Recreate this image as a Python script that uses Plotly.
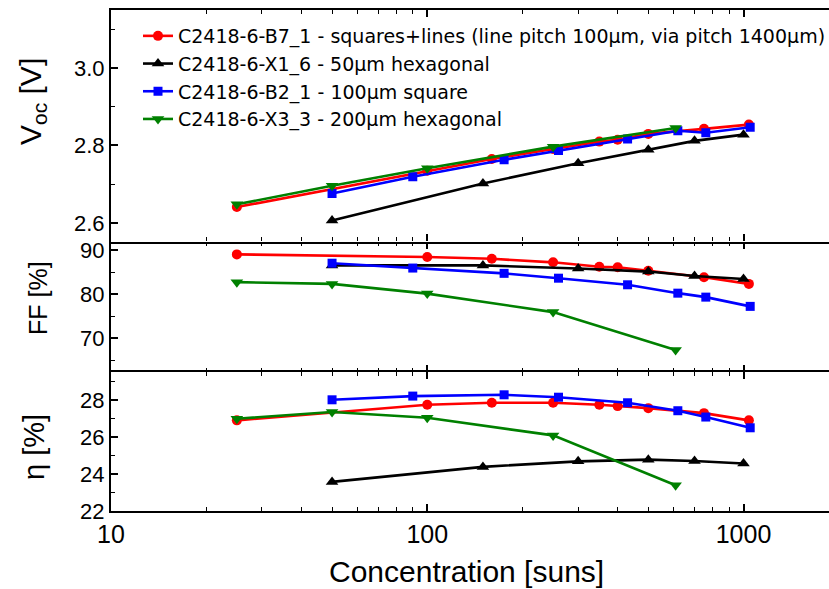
import plotly.graph_objects as go

# ---------------- data ----------------
names = [
    "C2418-6-B7_1 - squares+lines (line pitch 100µm, via pitch 1400µm)",
    "C2418-6-X1_6 - 50µm hexagonal",
    "C2418-6-B2_1 - 100µm square",
    "C2418-6-X3_3 - 200µm hexagonal",
]
colors = ["#ff0000", "#000000", "#0000ff", "#008000"]
symbols = ["circle", "triangle-up", "square", "triangle-down"]

x_red = [25, 100, 160, 250, 350, 400, 500, 750, 1040]
voc_red = [2.641, 2.735, 2.765, 2.791, 2.810, 2.815, 2.830, 2.843, 2.854]
ff_red = [89.0, 88.4, 88.0, 87.2, 86.2, 86.1, 85.3, 83.8, 82.3]
eta_red = [26.89, 27.73, 27.84, 27.84, 27.73, 27.66, 27.55, 27.28, 26.89]

x_black = [50, 150, 300, 500, 700, 1000]
voc_black = [2.606, 2.702, 2.754, 2.789, 2.812, 2.828]
ff_black = [86.5, 86.5, 85.8, 85.1, 84.1, 83.4]
eta_black = [23.57, 24.38, 24.68, 24.77, 24.70, 24.56]

x_blue = [50, 90, 175, 260, 430, 620, 760, 1050]
voc_blue = [2.676, 2.719, 2.763, 2.787, 2.817, 2.838, 2.833, 2.847]
ff_blue = [87.0, 85.9, 84.7, 83.6, 82.1, 80.2, 79.3, 77.2]
eta_blue = [28.0, 28.2, 28.27, 28.14, 27.84, 27.41, 27.07, 26.49]

x_green = [25, 50, 100, 250, 610]
voc_green = [2.648, 2.696, 2.741, 2.797, 2.845]
ff_green = [82.7, 82.3, 80.1, 75.9, 67.3]
eta_green = [26.98, 27.34, 27.03, 26.08, 23.39]

x_tickvals = [10, 100, 1000]
x_ticktext = ["10", "100", "1000"]
x_minor = [20, 30, 40, 50, 60, 70, 80, 90, 200, 300, 400, 500, 600, 700, 800, 900]
voc_ticks = [2.6, 2.8, 3.0]
voc_ticktext = ["2.6", "2.8", "3.0"]
voc_minor = [2.7, 2.9, 3.1]
ff_ticks = [70, 80, 90]
ff_minor = [65, 75, 85]
eta_ticks = [22, 24, 26, 28]
eta_minor = [23, 25, 27, 29]

# --------------- figure ---------------
W, H = 829, 589
ML, MR, MT, MB = 111, 0, 10, 78
PW, PH = W - ML - MR, H - MT - MB

series = [
    (x_red, voc_red, ff_red, eta_red),
    (x_black, voc_black, ff_black, eta_black),
    (x_blue, voc_blue, ff_blue, eta_blue),
    (x_green, voc_green, ff_green, eta_green),
]
msizes = [10, 11, 9, 11]

fig = go.Figure()
for i, (xs, v, f, e) in enumerate(series):
    for j, (ys, xa, ya) in enumerate([(v, "x", "y"), (f, "x2", "y2"), (e, "x3", "y3")]):
        fig.add_trace(go.Scatter(
            x=xs, y=ys, xaxis=xa, yaxis=ya, mode="lines+markers",
            name=names[i], legendgroup=names[i], showlegend=(j == 0),
            line=dict(color=colors[i], width=2.6),
            marker=dict(color=colors[i], symbol=symbols[i], size=msizes[i]),
        ))

FONT = "Liberation Sans, Arial, sans-serif"
LEGFONT = "DejaVu Sans, Liberation Sans, sans-serif"
xr = [1, 1 + (W - ML) / 316.25]
d_mid = (511 - 372) / PH
d_top = (511 - 241.5) / PH

def xaxis_common(show_labels, anchor, showline):
    return dict(
        type="log", range=xr, anchor=anchor, showgrid=False, zeroline=False,
        showline=showline, linecolor="black", linewidth=2.2, mirror="allticks",
        ticks="inside", ticklen=7, tickwidth=1.5, tickcolor="black",
        tickmode="array", tickvals=x_tickvals, ticktext=x_ticktext,
        showticklabels=show_labels,
        tickfont=dict(family=FONT, size=25, color="black"),
        minor=dict(ticks="inside", ticklen=4, tickwidth=1.3, tickcolor="black",
                   tickmode="array", tickvals=x_minor, showgrid=False),
    )

def yaxis_common(domain, rng, tv, tt, mv, anchor):
    return dict(
        domain=domain, range=rng, anchor=anchor, showgrid=False, zeroline=False,
        showline=True, linecolor="black", linewidth=2, mirror=False,
        ticks="inside", ticklen=7, tickwidth=1.5, tickcolor="black",
        tickmode="array", tickvals=tv, ticktext=tt,
        tickfont=dict(family=FONT, size=22, color="black"),
        minor=dict(ticks="inside", ticklen=4, tickwidth=1.3, tickcolor="black",
                   tickmode="array", tickvals=mv, showgrid=False),
    )

fig.update_layout(
    width=W, height=H, margin=dict(l=ML, r=MR, t=MT, b=MB, autoexpand=False),
    paper_bgcolor="white", plot_bgcolor="white",
    font=dict(family=FONT, color="black"),
    xaxis=xaxis_common(False, "y", True),
    xaxis2=xaxis_common(False, "y2", False),
    xaxis3=xaxis_common(True, "y3", True),
    yaxis=yaxis_common([d_top, 1], [2.552, 3.150], voc_ticks, voc_ticktext, voc_minor, "x"),
    yaxis2=yaxis_common([d_mid, d_top], [62.3, 91.93], ff_ticks, [str(t) for t in ff_ticks], ff_minor, "x2"),
    yaxis3=yaxis_common([0, d_mid], [22, 29.5], eta_ticks, [str(t) for t in eta_ticks], eta_minor, "x3"),
    legend=dict(
        x=(138 - ML) / PW, y=1 - (17 - MT) / PH, xanchor="left", yanchor="top",
        bgcolor="rgba(0,0,0,0)", borderwidth=0,
        font=dict(family=LEGFONT, size=19, color="black"),
        tracegroupgap=0,
    ),
    showlegend=True,
)

def px_x(px):
    return (px - ML) / PW

def px_y(py):
    return (H - MB - py) / PH

annos = [
    dict(text="Concentration [suns]", x=px_x(466), y=px_y(571), size=30, angle=0),
    dict(text="V<sub>oc</sub> [V]", x=px_x(33), y=px_y(102), size=30, angle=-90),
    dict(text="FF [%]", x=px_x(38), y=px_y(298), size=25, angle=-90),
    dict(text="η [%]", x=px_x(34), y=px_y(447), size=29, angle=-90),
]
for a in annos:
    fig.add_annotation(
        text=a["text"], x=a["x"], y=a["y"], xref="paper", yref="paper",
        xanchor="center", yanchor="middle", showarrow=False, textangle=a["angle"],
        font=dict(family=FONT, size=a["size"], color="black"),
    )

fig.write_html("out.html")
